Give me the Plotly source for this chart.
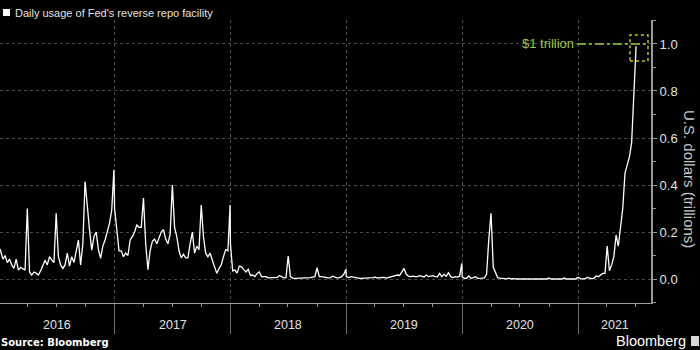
import pandas as pd
import plotly.graph_objects as go

# Weekly readings of the Fed's overnight reverse repo facility (US$ trillions),
# one value every 7 days starting on 1 January of each year.
usage_2016 = [0.14, 0.12, 0.085, 0.10, 0.07, 0.085, 0.06, 0.045, 0.085, 0.038, 0.05, 0.045, 0.038,
              0.30, 0.03, 0.017, 0.03, 0.025, 0.017, 0.035, 0.06, 0.08, 0.06, 0.095, 0.08, 0.07,
              0.28, 0.095, 0.06, 0.045, 0.06, 0.11, 0.055, 0.095, 0.07, 0.123, 0.166, 0.06, 0.15,
              0.415, 0.30, 0.21, 0.123, 0.18, 0.2, 0.125, 0.088, 0.14, 0.166, 0.2, 0.237, 0.294, 0.465]
usage_2017 = [0.30, 0.2, 0.12, 0.12, 0.095, 0.11, 0.10, 0.166, 0.18, 0.2, 0.23, 0.22, 0.22,
              0.345, 0.15, 0.04, 0.12, 0.16, 0.17, 0.15, 0.18, 0.2, 0.21, 0.17, 0.15, 0.19,
              0.40, 0.22, 0.18, 0.12, 0.09, 0.105, 0.09, 0.09, 0.15, 0.2, 0.11, 0.14, 0.125,
              0.315, 0.18, 0.11, 0.095, 0.11, 0.08, 0.05, 0.024, 0.045, 0.06, 0.095, 0.125, 0.12, 0.315]
usage_2018 = [0.15, 0.035, 0.038, 0.025, 0.055, 0.052, 0.04, 0.03, 0.041, 0.015, 0.017, 0.01, 0.024,
              0.03, 0.01, 0.01, 0.01, 0.005, 0.006, 0.008, 0.006, 0.007, 0.015, 0.01, 0.005, 0.006,
              0.098, 0.01, 0.004, 0.003, 0.003, 0.003, 0.003, 0.003, 0.004, 0.005, 0.006, 0.008, 0.01,
              0.048, 0.01, 0.01, 0.008, 0.006, 0.005, 0.006, 0.012, 0.008, 0.005, 0.006, 0.01, 0.02, 0.041]
usage_2019 = [0.01, 0.006, 0.01, 0.008, 0.005, 0.004, 0.003, 0.003, 0.003, 0.003, 0.003, 0.004, 0.006,
              0.008, 0.004, 0.006, 0.008, 0.007, 0.004, 0.006, 0.008, 0.01, 0.012, 0.017, 0.015, 0.03,
              0.045, 0.02, 0.012, 0.01, 0.012, 0.01, 0.01, 0.014, 0.01, 0.009, 0.017, 0.01, 0.012,
              0.014, 0.01, 0.009, 0.024, 0.01, 0.02, 0.012, 0.027, 0.01, 0.006, 0.01, 0.008, 0.012, 0.067]
usage_2020 = [0.01, 0.003, 0.003, 0.013, 0.003, 0.006, 0.01, 0.003, 0.005, 0.004, 0.005, 0.02, 0.17,
              0.28, 0.05, 0.024, 0.006, 0.004, 0.003, 0.004, 0.001, 0.004, 0.001, 0.002, 0.0, 0.0,
              0.0, 0.0, 0.0, 0.0, 0.0, 0.0, 0.0, 0.0, 0.0, 0.0, 0.0, 0.0, 0.0,
              0.004, 0.0, 0.0, 0.0, 0.0, 0.0, 0.0, 0.004, 0.0, 0.0, 0.0, 0.0, 0.0, 0.007]
usage_2021 = [0.007, 0.001, 0.001, 0.001, 0.007, 0.003, 0.002, 0.003, 0.013, 0.01, 0.016, 0.024, 0.024,
              0.14, 0.035, 0.06, 0.095, 0.187, 0.14, 0.21, 0.30, 0.45, 0.48, 0.52, 0.58, 0.80, 0.99]

yearly_usage = {2016: usage_2016, 2017: usage_2017, 2018: usage_2018,
                2019: usage_2019, 2020: usage_2020, 2021: usage_2021}

year_labels = ["2016", "2017", "2018", "2019", "2020", "2021"]
y_ticks = [0.0, 0.2, 0.4, 0.6, 0.8, 1.0]
milestone_value = 1.0
milestone_label = "$1 trillion"

x_start, x_end = pd.Timestamp("2016-01-06"), pd.Timestamp("2021-08-18")

dates, values = [], []
for year, vals in yearly_usage.items():
    dates.extend(pd.date_range(f"{year}-01-01", periods=len(vals), freq="7D"))
    values.extend(vals)

FONT = "Liberation Sans Narrow, Arial Narrow, Liberation Sans, sans-serif"
REG = "Liberation Sans, Arial, sans-serif"
GRID = "#4a4a4a"
AXIS = "#9a9a9a"
TEXT = "#e2e2e2"
GREEN = "#9cc93a"
YELLOW = "#c9c21a"

# plot area geometry (px)
W, H = 700, 350
L, R, T, B = 0, 49, 20, 47
pw, ph = W - L - R, H - T - B


def px(xp):
    return (xp - L) / pw


def py(yp):
    return (H - B - yp) / ph


fig = go.Figure()
fig.add_trace(go.Scatter(x=dates, y=values, mode="lines",
                         line=dict(color="white", width=1.3),
                         hoverinfo="x+y", showlegend=False))

fig.update_layout(
    width=W, height=H,
    margin=dict(l=L, r=R, t=T, b=B),
    paper_bgcolor="black", plot_bgcolor="black",
    font=dict(family=FONT, color=TEXT, size=12),
)

fig.update_xaxes(
    range=[x_start, x_end],
    showline=True, linecolor=AXIS, linewidth=1,
    ticks="outside", ticklen=30, tickcolor="#6a6a6a", tickwidth=1,
    dtick="M12", tick0="2016-01-01",
    showticklabels=False,
    showgrid=True, gridcolor=GRID, griddash="dot", gridwidth=1,
    minor=dict(dtick="M3", tick0="2016-01-01", ticks="outside", ticklen=3,
               tickcolor=AXIS, showgrid=False),
    zeroline=False,
)

fig.update_yaxes(
    side="right", range=[-0.102, 1.102],
    tickvals=y_ticks, tickformat=".1f",
    showline=True, linecolor=AXIS, linewidth=2,
    ticks="outside", ticklen=4, tickcolor=AXIS,
    tickfont=dict(family=REG, size=13, color=TEXT),
    showgrid=True, gridcolor=GRID, griddash="dot", gridwidth=1,
    minor=dict(dtick=0.1, ticks="outside", ticklen=3, tickcolor=AXIS, showgrid=False),
    zeroline=False,
)

# year labels centred in the visible span of each year
for lbl in year_labels:
    y0 = max(pd.Timestamp(f"{lbl}-01-01"), x_start)
    y1 = min(pd.Timestamp(f"{int(lbl) + 1}-01-01"), x_end)
    mid = y0 + (y1 - y0) / 2
    fig.add_annotation(x=mid, xref="x", y=py(325), yref="paper", text=lbl,
                       showarrow=False, xanchor="center", yanchor="middle",
                       borderpad=0,
                       font=dict(size=12.5, color=TEXT, family=REG))

# $1 trillion marker
fig.add_shape(type="line", xref="paper", yref="y", x0=px(577), x1=px(647),
              y0=milestone_value, y1=milestone_value,
              line=dict(color=GREEN, width=1.5, dash="dashdot"))
fig.add_shape(type="rect", xref="paper", yref="y", x0=px(630), x1=px(648),
              y0=0.928, y1=1.038, line=dict(color=YELLOW, width=1.5, dash="dot"))
fig.add_annotation(x=px(576), xref="paper", y=milestone_value, yref="y",
                   text=milestone_label, showarrow=False,
                   xanchor="right", yanchor="middle",
                   font=dict(size=13, color=GREEN, family=REG))

# title with legend square
fig.add_shape(type="rect", xref="paper", yref="paper",
              x0=px(3), x1=px(10), y0=py(16), y1=py(9),
              fillcolor="white", line=dict(width=0))
fig.add_annotation(x=px(13), xref="paper", y=py(13), yref="paper",
                   text="Daily usage of Fed's reverse repo facility",
                   showarrow=False, xanchor="left", yanchor="middle",
                   font=dict(size=11, color=TEXT))

# y-axis title, reading downwards
fig.add_annotation(x=px(690), xref="paper", y=py(179), yref="paper",
                   text="U.S. dollars (trillions)", textangle=90,
                   showarrow=False, xanchor="center", yanchor="middle",
                   font=dict(size=15, color="#c8c8c8", family=REG))

# footer
fig.add_annotation(x=px(0), xref="paper", y=py(342), yref="paper",
                   text="<b>Source: Bloomberg</b>", showarrow=False,
                   xanchor="left", yanchor="middle", borderpad=0,
                   font=dict(size=10, color="white",
                             family="DejaVu Sans, sans-serif"))
fig.add_annotation(x=px(687), xref="paper", y=py(341), yref="paper",
                   text="Bloomberg", showarrow=False,
                   xanchor="right", yanchor="middle", borderpad=0,
                   font=dict(size=14.5, color="white", family=REG))
fig.add_shape(type="rect", xref="paper", yref="paper",
              x0=px(691), x1=px(699), y0=py(346), y1=py(336),
              fillcolor="#d8d8d8", line=dict(width=0))

fig.write_html("out.html")
